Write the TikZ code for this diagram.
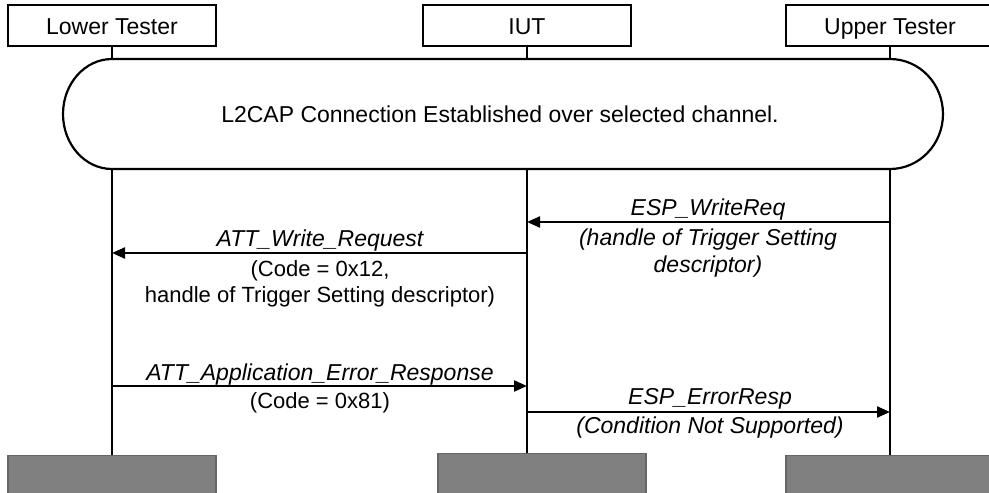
\documentclass[tikz,border=0pt]{standalone}
\usepackage{fontspec}
\setmainfont{Liberation Sans}
\usetikzlibrary{arrows.meta}
\begin{document}
\begin{tikzpicture}[x=1pt,y=1pt,
  hdr/.style={draw,line width=2pt,minimum width=208pt,minimum height=41pt,inner sep=0pt,text height=20pt,text depth=1pt,font=\fontsize{23}{27}\selectfont},
  foot/.style={draw=black!60,line width=1.2pt,fill=black!50,minimum width=208pt,minimum height=40pt,inner sep=0pt,anchor=north},
  life/.style={line width=2.8pt},
  msg/.style={line width=2.2pt,-{Triangle[length=13pt,width=11pt]}},
  lbl/.style={font=\fontsize{22}{26}\selectfont,anchor=base,inner sep=0pt},
  ilbl/.style={lbl,font=\fontsize{23}{27}\selectfont\itshape}]
\useasboundingbox (0,0) rectangle (989,-493);
% headers
\node[hdr] (lt) at (112,-25) {Lower Tester};
\node[hdr] (iut) at (527,-25) {IUT};
\node[hdr] (ut) at (890,-25) {Upper Tester};
% stadium
\coordinate (sL1) at (112,-59);
\coordinate (sL2) at (112,-169);
\coordinate (sI1) at (527,-59);
\coordinate (sI2) at (527,-169);
\coordinate (sU1) at (890,-59);
\coordinate (sU2) at (890,-169);
\draw[line width=2.2pt] (sL1) -- (sU1) arc[start angle=90,end angle=-90,x radius=53,y radius=55] -- (sL2) arc[start angle=270,end angle=90,x radius=49,y radius=55] -- cycle;
\node[font=\fontsize{23}{27}\selectfont] (est) at (500,-114) {L2CAP Connection Established over selected channel.};
% footers
\node[foot] (flt) at (112,-455) {};
\node[foot] (fiut) at (542,-453) {};
\node[foot] (fut) at (890,-455) {};
% lifelines
\draw[life] (lt.south) -- (sL1);
\draw[life] (iut.south) -- (sI1);
\draw[life] (ut.south) -- (sU1);
\draw[life] (sL2) -- (flt.north -| sL2);
\draw[life] (sI2) -- (fiut.north -| sI2);
\draw[life] (sU2) -- (fut.north -| sU2);
% message anchors
\coordinate (m1a) at (890,-222); \coordinate (m1b) at (527,-222);
\coordinate (m2a) at (527,-253); \coordinate (m2b) at (112,-253);
\coordinate (m3a) at (112,-386); \coordinate (m3b) at (527,-386);
\coordinate (m4a) at (527,-412); \coordinate (m4b) at (890,-412);
\draw[msg] (m1a) -- (m1b);
\draw[msg] (m2a) -- (m2b);
\draw[msg] (m3a) -- (m3b);
\draw[msg] (m4a) -- (m4b);
% labels
\node[ilbl] (l1a) at (708,-215) {ESP\_WriteReq};
\node[ilbl] (l1b) at (708,-245) {(handle of Trigger Setting};
\node[ilbl] (l1c) at (708,-272) {descriptor)};
\node[ilbl] (l2a) at (320,-246) {ATT\_Write\_Request};
\node[lbl] (l2b) at (320,-276) {(Code = 0x12,};
\node[lbl] (l2c) at (320,-302) {handle of Trigger Setting descriptor)};
\node[ilbl] (l3a) at (320,-380) {ATT\_Application\_Error\_Response};
\node[lbl] (l3b) at (320,-408) {(Code = 0x81)};
\node[ilbl] (l4a) at (710,-404) {ESP\_ErrorResp};
\node[ilbl] (l4b) at (710,-433) {(Condition Not Supported)};
\end{tikzpicture}
\end{document}
